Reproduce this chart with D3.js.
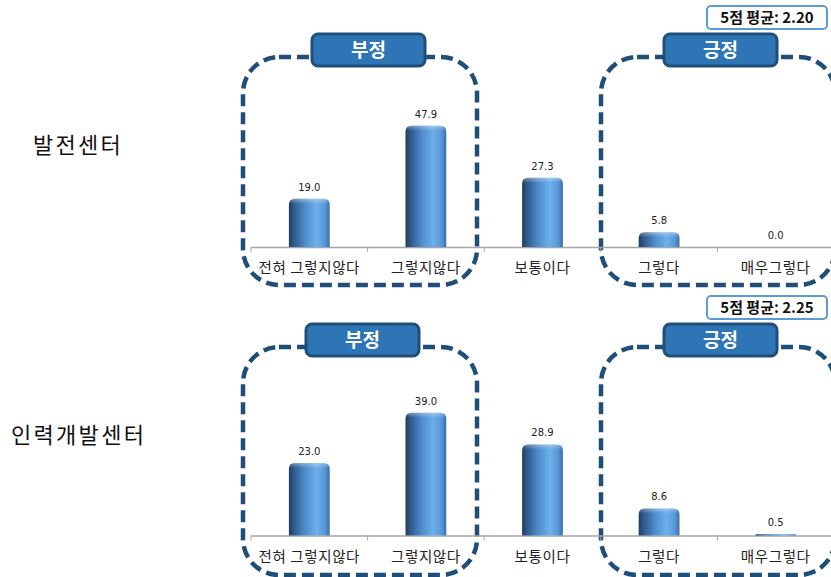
<!DOCTYPE html>
<html>
<head>
<meta charset="utf-8">
<script src="https://cdn.jsdelivr.net/npm/d3@7"></script>
<style>
  html, body { margin: 0; padding: 0; background: #fff; }
  svg { display: block; }
</style>
</head>
<body>
<svg id="chart" width="831" height="577"></svg>
<script>
// Response categories on the 5-point scale
const categories = ["전혀 그렇지않다", "그렇지않다", "보통이다", "그렇다", "매우그렇다"];
// Centres (one panel each)
const centers = ["발전센터", "인력개발센터"];
// Percentages per centre
const valuesDevCenter = [19.0, 47.9, 27.3, 5.8, 0.0];
const valuesHrCenter = [23.0, 39.0, 28.9, 8.6, 0.5];
// 5-point averages
const averages = ["2.20", "2.25"];
// Grouping labels
const groupLabels = ["부정", "긍정"];
// Axis maxima per panel
const yMaxima = [60, 50];

const svg = d3.select("#chart");
const defs = svg.append("defs");
const FONT = "'Noto Sans CJK KR', 'Noto Sans', sans-serif";

// Cylinder shading for the bars
const grad = defs.append("linearGradient").attr("id", "barGrad")
  .attr("x1", "0%").attr("x2", "100%").attr("y1", "0%").attr("y2", "0%");
[["0%", "#1f3c61"], ["12%", "#30598a"], ["40%", "#4f8ccc"], ["68%", "#6cb0ec"],
 ["88%", "#5897d6"], ["100%", "#3d6fa6"]]
  .forEach(([o, c]) => grad.append("stop").attr("offset", o).attr("stop-color", c));

const capGrad = defs.append("linearGradient").attr("id", "capGrad")
  .attr("x1", "0%").attr("x2", "0%").attr("y1", "0%").attr("y2", "100%");
[["0%", "#ffffff", 0.35], ["100%", "#ffffff", 0]]
  .forEach(([o, c, a]) => capGrad.append("stop").attr("offset", o)
    .attr("stop-color", c).attr("stop-opacity", a));

const x = d3.scaleBand()
  .domain(categories)
  .range([251, 834])
  .paddingInner(0.65)
  .paddingOuter(0.325);

const panels = [
  { name: centers[0], values: valuesDevCenter, avg: averages[0], yMax: yMaxima[0],
    base: 247, top: 95, offset: 0, nameX: 33, negX: 312 },
  { name: centers[1], values: valuesHrCenter, avg: averages[1], yMax: yMaxima[1],
    base: 535.5, top: 378, offset: 290, nameX: 11, negX: 306 }
];

function barPath(x0, w, yTop, yBase) {
  const h = yBase - yTop;
  const r = Math.min(6, h, w / 2);
  return `M${x0},${yBase} L${x0},${yTop + r} Q${x0},${yTop} ${x0 + r},${yTop}` +
    ` L${x0 + w - r},${yTop} Q${x0 + w},${yTop} ${x0 + w},${yTop + r} L${x0 + w},${yBase} Z`;
}

panels.forEach(p => {
  const g = svg.append("g");
  const y = d3.scaleLinear().domain([0, p.yMax]).range([p.base, p.top]);
  const o = p.offset;

  // Centre name
  g.append("text")
    .attr("x", p.nameX)
    .attr("y", 153 + o)
    .attr("font-family", FONT)
    .attr("font-size", 22)
    .attr("letter-spacing", 2.3)
    .attr("fill", "#111")
    .text(p.name);

  // Dashed group frames
  [243, 601].forEach(fx => {
    g.append("rect")
      .attr("x", fx).attr("y", 57 + o)
      .attr("width", 234).attr("height", 228)
      .attr("rx", 36).attr("ry", 36)
      .attr("fill", "none")
      .attr("stroke", "#1f4e79")
      .attr("stroke-width", 4.5)
      .attr("stroke-dasharray", "12 6");
  });

  // Axis line and band ticks
  g.append("line")
    .attr("x1", x.range()[0]).attr("x2", x.range()[1])
    .attr("y1", p.base + 0.5).attr("y2", p.base + 0.5)
    .attr("stroke", "#a6a6a6").attr("stroke-width", 1.5);
  const gap = (x.step() - x.bandwidth()) / 2;
  const bounds = categories.map(c => x(c) - gap).concat([x(categories[4]) + x.bandwidth() + gap]);
  g.selectAll(".tick").data(bounds).enter().append("line")
    .attr("x1", d => d).attr("x2", d => d)
    .attr("y1", p.base).attr("y2", p.base + 5)
    .attr("stroke", "#a6a6a6").attr("stroke-width", 1);

  // Bars
  const data = categories.map((c, i) => ({ c, v: p.values[i] }));
  const bars = g.selectAll(".bar").data(data.filter(d => d.v > 0)).enter();
  bars.append("path")
    .attr("d", d => barPath(x(d.c), x.bandwidth(), y(d.v), p.base))
    .attr("fill", "url(#barGrad)");
  bars.append("path")
    .attr("d", d => {
      const h = p.base - y(d.v);
      const ch = Math.min(5, h);
      return barPath(x(d.c) + 1, x.bandwidth() - 2, y(d.v), y(d.v) + ch);
    })
    .attr("fill", "url(#capGrad)");

  // Value labels
  g.selectAll(".val").data(data).enter().append("text")
    .attr("x", d => x(d.c) + x.bandwidth() / 2)
    .attr("y", d => y(d.v) - 8)
    .attr("text-anchor", "middle")
    .attr("font-family", "'DejaVu Sans', sans-serif")
    .attr("font-size", 10)
    .attr("fill", "#222")
    .text(d => d.v.toFixed(1));

  // Category labels
  g.selectAll(".cat").data(categories).enter().append("text")
    .attr("x", d => x(d) + x.bandwidth() / 2)
    .attr("y", p.base + 26)
    .attr("text-anchor", "middle")
    .attr("font-family", FONT)
    .attr("font-size", 14.5)
    .attr("letter-spacing", 0.6)
    .attr("fill", "#222")
    .text(d => d);

  // Group label badges
  [{ x: p.negX, label: groupLabels[0] }, { x: 664, label: groupLabels[1] }].forEach(b => {
    g.append("rect")
      .attr("x", b.x).attr("y", 34 + o)
      .attr("width", 113).attr("height", 32)
      .attr("rx", 6).attr("ry", 6)
      .attr("fill", "#2e75b6")
      .attr("stroke", "#1f4e79").attr("stroke-width", 3);
    g.append("text")
      .attr("x", b.x + 56.5).attr("y", 57 + o)
      .attr("text-anchor", "middle")
      .attr("font-family", FONT)
      .attr("font-weight", "bold")
      .attr("font-size", 19)
      .attr("fill", "#fff")
      .text(b.label);
  });

  // Average badge
  g.append("rect")
    .attr("x", 707).attr("y", 6 + o)
    .attr("width", 120).attr("height", 23)
    .attr("rx", 4).attr("ry", 4)
    .attr("fill", "#fff")
    .attr("stroke", "#5b9bd5").attr("stroke-width", 2);
  g.append("text")
    .attr("x", 767).attr("y", 23 + o)
    .attr("text-anchor", "middle")
    .attr("font-family", FONT)
    .attr("font-weight", "bold")
    .attr("font-size", 15)
    .attr("fill", "#111")
    .text(`5점 평균: ${p.avg}`);
});
</script>
</body>
</html>
